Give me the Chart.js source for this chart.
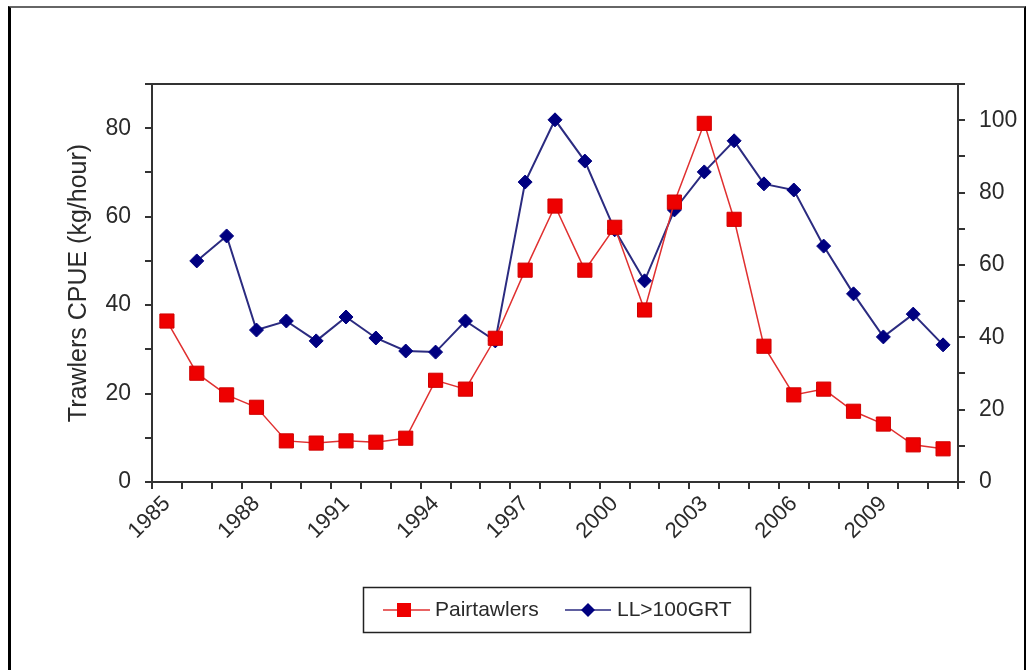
<!DOCTYPE html>
<html>
<head>
<meta charset="utf-8">
<script src="https://cdn.jsdelivr.net/npm/chart.js@4/dist/chart.umd.min.js"></script>
<style>
  html, body { margin: 0; padding: 0; background: #fff; }
  #wrap { position: relative; width: 1029px; height: 670px; }
  #frame {
    position: absolute; left: 8px; top: 6px; width: 1013px; height: 680px;
    border-top: 2px solid #666; border-left: 3px solid #000; border-right: 2px solid #000;
    pointer-events: none;
  }
</style>
</head>
<body>
<div id="wrap">
  <canvas id="myChart" width="1029" height="670"></canvas>
  <div id="frame"></div>
</div>
<script>
const years = [];
for (let y = 1985; y <= 2011; y++) years.push(String(y));

// left axis (kg/hour)
const pairtrawlers = [36.4, 24.6, 19.7, 16.9, 9.3, 8.8, 9.3, 9.0, 9.9, 23.0, 21.0, 32.5, 47.9, 62.4,
    47.9, 57.6, 38.9, 63.3, 81.1, 59.4, 30.7, 19.7, 21.0, 16.0, 13.1, 8.4, 7.5];
// right axis, no value for 1985
const longline = [null, 61.1, 68.0, 42.0, 44.5, 39.0, 45.6, 39.8, 36.2, 35.9, 44.5, 39.0, 82.9, 100.1,
    88.7, 69.7, 55.6, 75.2, 85.7, 94.3, 82.4, 80.7, 65.2, 52.0, 40.1, 46.4, 37.9];

const leftTicks = [0, 20, 40, 60, 80];
const rightTicks = [0, 20, 40, 60, 80, 100];

const FONT = 'Liberation Sans, Arial, sans-serif';
const AXIS = '#333';
const TEXT = '#2a2a2a';

// frame around the plot area + legend box drawn by hand
const extras = {
    id: 'extras',
    afterDraw(chart) {
        const { ctx, chartArea: a } = chart;
        ctx.save();
        ctx.strokeStyle = AXIS;
        ctx.lineWidth = 2;
        ctx.strokeRect(a.left, a.top, a.right - a.left, a.bottom - a.top);

        // legend
        ctx.lineWidth = 1.5;
        ctx.strokeStyle = '#222';
        ctx.strokeRect(363.5, 587.5, 387, 45);
        ctx.font = '21px ' + FONT;
        ctx.textBaseline = 'middle';
        const yMid = 610;

        ctx.strokeStyle = '#e03030';
        ctx.lineWidth = 1.5;
        ctx.beginPath(); ctx.moveTo(383, yMid); ctx.lineTo(430, yMid); ctx.stroke();
        ctx.fillStyle = '#ee0000';
        ctx.fillRect(397, yMid - 7, 14, 14);
        ctx.fillStyle = TEXT;
        ctx.fillText(chart.data.datasets[0].label, 435, yMid);

        ctx.strokeStyle = '#2b2b80';
        ctx.beginPath(); ctx.moveTo(565, yMid); ctx.lineTo(611, yMid); ctx.stroke();
        ctx.fillStyle = '#000080';
        ctx.beginPath();
        ctx.moveTo(588, yMid - 7); ctx.lineTo(595, yMid); ctx.lineTo(588, yMid + 7); ctx.lineTo(581, yMid);
        ctx.closePath(); ctx.fill();
        ctx.fillStyle = TEXT;
        ctx.fillText(chart.data.datasets[1].label, 617, yMid);
        ctx.restore();
    }
};

const ctx = document.getElementById('myChart').getContext('2d');

const chart = new Chart(ctx, {
    type: 'line',
    data: {
        labels: years,
        datasets: [
            {
                label: 'Pairtawlers',
                data: pairtrawlers,
                yAxisID: 'y',
                borderColor: '#e03030',
                borderWidth: 1.5,
                pointStyle: 'rect',
                pointRadius: 10,
                pointBackgroundColor: '#ee0000',
                pointBorderColor: '#d00000',
                pointBorderWidth: 1,
                tension: 0,
            },
            {
                label: 'LL>100GRT',
                data: longline,
                yAxisID: 'y1',
                borderColor: '#2b2b80',
                borderWidth: 2,
                pointStyle: 'rectRot',
                pointRadius: 7,
                pointBackgroundColor: '#000080',
                pointBorderColor: '#000080',
                pointBorderWidth: 1,
                tension: 0,
            },
        ],
    },
    options: {
        responsive: false,
        animation: false,
        layout: { padding: { top: 84, left: 0, right: 0, bottom: 0 } },
        plugins: {
            legend: { display: false },
            tooltip: { enabled: false },
        },
        scales: {
            x: {
                type: 'category',
                offset: true,
                afterFit: s => { s.height = 188; },
                grid: {
                    offset: true,
                    drawOnChartArea: false,
                    drawTicks: true,
                    tickLength: 7,
                    color: AXIS,
                    lineWidth: 2,
                },
                border: { display: true, color: AXIS, width: 2 },
                ticks: {
                    autoSkip: false,
                    maxRotation: 45,
                    minRotation: 45,
                    padding: 2,
                    color: TEXT,
                    font: { family: FONT, size: 22 },
                    callback: (v, i) => (i % 3 === 0 ? years[i] : ''),
                },
            },
            y: {
                position: 'left',
                min: 0,
                max: 90,
                afterFit: s => { s.width = 152; },
                grid: { drawOnChartArea: false, tickLength: 7, color: AXIS, lineWidth: 2 },
                border: { display: true, color: AXIS, width: 2 },
                ticks: {
                    stepSize: 10,
                    padding: 14,
                    color: TEXT,
                    font: { family: FONT, size: 23 },
                    callback: v => (leftTicks.includes(v) ? String(v) : ''),
                },
                title: {
                    display: true,
                    text: 'Trawlers CPUE (kg/hour)',
                    color: TEXT,
                    font: { family: FONT, size: 25 },
                    padding: { top: 64, bottom: 0 },
                },
            },
            y1: {
                position: 'right',
                min: 0,
                max: 110,
                afterFit: s => { s.width = 71; },
                grid: { drawOnChartArea: false, tickLength: 7, color: AXIS, lineWidth: 2 },
                border: { display: true, color: AXIS, width: 2 },
                ticks: {
                    stepSize: 10,
                    padding: 14,
                    color: TEXT,
                    font: { family: FONT, size: 23 },
                    callback: v => (rightTicks.includes(v) ? String(v) : ''),
                },
            },
        },
    },
    plugins: [extras],
});
</script>
</body>
</html>
